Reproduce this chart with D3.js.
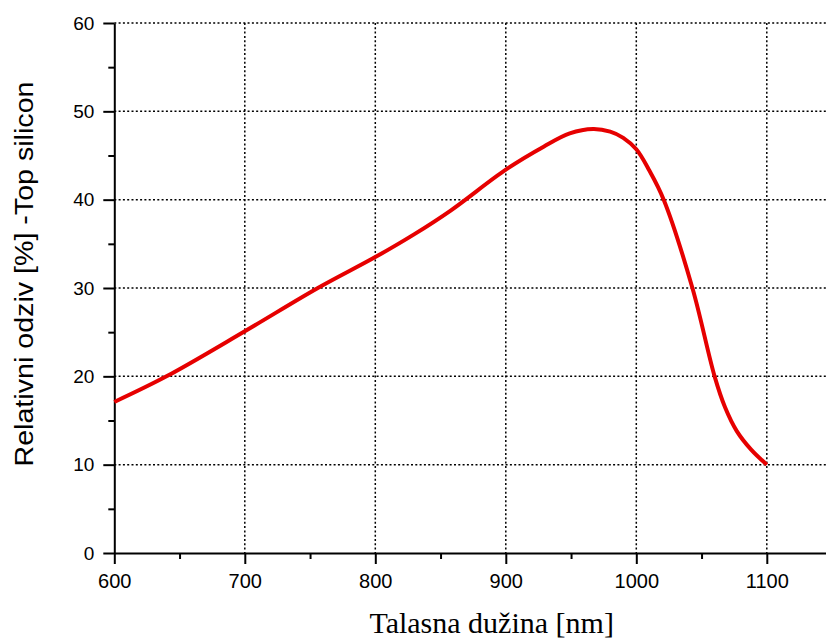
<!DOCTYPE html>
<html>
<head>
<meta charset="utf-8">
<script src="https://cdn.jsdelivr.net/npm/d3@7"></script>
<style>
  body { margin: 0; background: #fff; }
  svg { display: block; }
  .grid line { stroke: #000; stroke-width: 1.5; stroke-dasharray: 2 2.3; }
  .axis path, .axis line { stroke: #000; stroke-width: 2; }
  .axis text { font-family: "Liberation Sans", Arial, sans-serif; fill: #000; }
</style>
</head>
<body>
<div class="container"></div>
<script>
// wavelength (nm) and relative response (%)
const wavelength = [600, 640, 700, 756, 800, 830, 858, 900, 929, 949, 967, 980, 990, 1000, 1010, 1021, 1043, 1060, 1068, 1077, 1088, 1100];
const response   = [17.1, 20.0, 25.1, 30.0, 33.5, 36.1, 38.8, 43.4, 46.0, 47.5, 48.0, 47.7, 47.0, 45.7, 43.3, 40.0, 30.0, 20.0, 16.5, 13.8, 11.7, 10.0];

const xMajorTicks = [600, 700, 800, 900, 1000, 1100];
const xMinorTicks = [650, 750, 850, 950, 1050, 1150];
const yMajorTicks = [0, 10, 20, 30, 40, 50, 60];
const yMinorTicks = [5, 15, 25, 35, 45, 55];

const xTitle = 'Talasna dužina [nm]';
const yTitle = 'Relativni odziv [%] -Top silicon';

const W = 826, H = 639;
const plotLeft = 114.3, plotTop = 23, plotBottom = 553;
const pxPerNm = 1.305;
const plotRight = 869; // axis runs past the right edge of the picture

const svg = d3.select('.container').append('svg')
    .attr('width', W)
    .attr('height', H);

const x = d3.scaleLinear()
    .domain([600, 600 + (plotRight - plotLeft) / pxPerNm])
    .range([plotLeft, plotRight]);

const y = d3.scaleLinear()
    .domain([0, 60])
    .range([plotBottom, plotTop]);

// dotted grid
const grid = svg.append('g').attr('class', 'grid');
grid.selectAll('.hg')
    .data(yMajorTicks.filter(d => d > 0))
    .join('line')
    .attr('x1', plotLeft).attr('x2', W)
    .attr('y1', d => y(d)).attr('y2', d => y(d));
grid.selectAll('.vg')
    .data(xMajorTicks.filter(d => d > 600))
    .join('line')
    .attr('x1', d => x(d)).attr('x2', d => x(d))
    .attr('y1', plotTop).attr('y2', plotBottom);

// minor ticks
svg.append('g')
    .attr('class', 'axis')
    .attr('transform', `translate(0, ${plotBottom})`)
    .call(d3.axisBottom(x).tickValues(xMinorTicks).tickSize(6).tickFormat(''))
    .call(g => g.select('.domain').remove());

svg.append('g')
    .attr('class', 'axis')
    .attr('transform', `translate(${plotLeft}, 0)`)
    .call(d3.axisLeft(y).tickValues(yMinorTicks).tickSize(6).tickFormat(''))
    .call(g => g.select('.domain').remove());

// major axes
svg.append('g')
    .attr('class', 'axis')
    .attr('transform', `translate(0, ${plotBottom})`)
    .call(d3.axisBottom(x).tickValues(xMajorTicks).tickFormat(d3.format('d'))
        .tickSize(11).tickSizeOuter(0).tickPadding(9))
    .call(g => g.selectAll('text').attr('font-size', 20).attr('dy', '0.75em'));

svg.append('g')
    .attr('class', 'axis')
    .attr('transform', `translate(${plotLeft}, 0)`)
    .call(d3.axisLeft(y).tickValues(yMajorTicks).tickFormat(d3.format('d'))
        .tickSize(11).tickSizeOuter(0).tickPadding(9))
    .call(g => g.selectAll('text').attr('font-size', 19));

// curve
const line = d3.line()
    .x((d, i) => x(wavelength[i]))
    .y(d => y(d))
    .curve(d3.curveCatmullRom.alpha(0.5));

svg.append('path')
    .datum(response)
    .attr('fill', 'none')
    .attr('stroke', '#e60000')
    .attr('stroke-width', 4)
    .attr('stroke-linejoin', 'round')
    .attr('d', line);

// axis titles
svg.append('text')
    .attr('x', (plotLeft + plotRight) / 2)
    .attr('y', 633)
    .attr('text-anchor', 'middle')
    .attr('font-family', '"Liberation Serif", "Times New Roman", serif')
    .attr('font-size', 30)
    .text(xTitle);

svg.append('text')
    .attr('transform', 'translate(33, 274) rotate(-90)')
    .attr('text-anchor', 'middle')
    .attr('font-family', '"Liberation Sans", Arial, sans-serif')
    .attr('font-size', 26)
    .attr('textLength', 385)
    .attr('lengthAdjust', 'spacingAndGlyphs')
    .text(yTitle);
</script>
</body>
</html>
